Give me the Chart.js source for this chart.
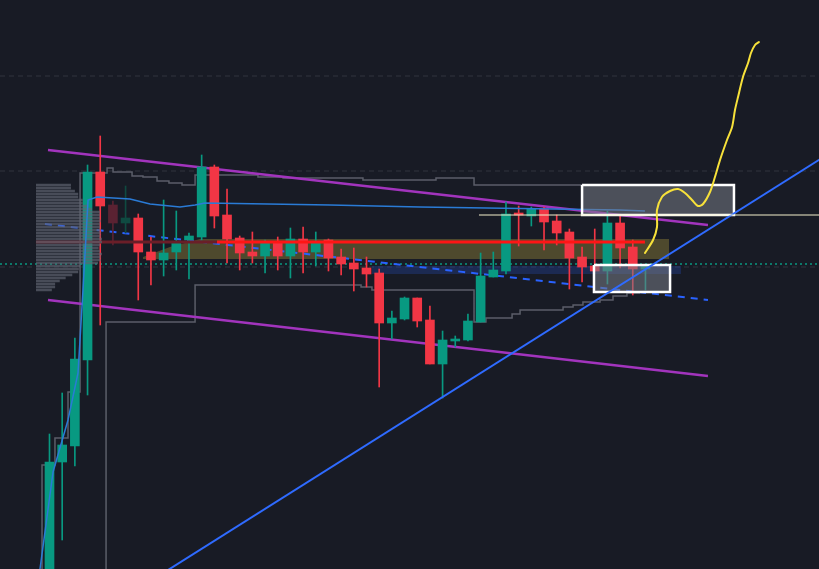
<!DOCTYPE html>
<html>
<head>
<meta charset="utf-8">
<script src="https://cdn.jsdelivr.net/npm/chart.js@4.4.1/dist/chart.umd.min.js"></script>
<style>
  html, body { margin: 0; padding: 0; background: #181b25; overflow: hidden; }
  #wrap { width: 819px; height: 569px; }
</style>
</head>
<body>
<div id="wrap"><canvas id="chart" width="819" height="569"></canvas></div>
<script>
/* Candles: x = bar index, prices in chart units */
const opens  = [-30,107,123,209,397,364,346,351,317,309,317,329,332,402,354,331,317,313,326,313,330,317,329,312,306,301,296,246,250,271,249,205,228,229,247,292,298,356,353,360,348,337,312,303,298,346,322,300];
const closes = [107,124,210,397,363,346,351,317,309,316,326,333,402,353,330,316,313,326,313,330,317,326,311,305,300,295,246,251,271,248,205,229,230,248,293,299,355,354,360,347,336,311,302,298,346,321,300,303];
const highs  = [135,176,231,404,433,368,383,355,332,369,358,336,414,404,380,333,337,329,332,341,342,337,330,320,321,312,300,258,272,271,263,238,233,255,316,317,367,363,362,362,354,340,322,340,358,353,329,303];
const lows   = [-40,29,103,174,244,324,336,269,284,293,299,290,329,341,306,299,306,296,299,291,296,303,298,294,278,282,182,230,249,242,205,171,222,228,247,292,295,323,343,319,324,280,287,298,285,301,274,279];
const fadedBars = [5, 6];

/* Moving average */
const maLine = [[-0.75,0],[0.28,97],[1.46,149],[2.25,196],[2.64,279],[3.04,369],[3.75,372],[6.35,370],[7.93,365],[10.29,362],[11.48,364],[12.26,366],[22.12,364],[29.22,362],[44.99,359],[46.96,358]];

/* Stepped levels (level starts at x) */
const upperSteps = [[-0.59,-6],[-0.59,104],[0.43,131],[1.46,177],[2.41,396],[4.54,401],[5.01,397],[6.51,393],[7.37,392],[8.48,388],[9.42,386],[10.45,384],[11.48,394],[16.44,392],[18.42,391],[24.72,389],[30.48,391],[33.48,384],[42.0,384]];
const lowerSteps = [[4.46,-6],[4.46,247],[11.48,284],[24.57,282],[25.43,279],[33.48,247],[34.42,251],[36.48,255],[37.11,259],[40.5,262],[41.29,264],[42.07,267],[43.42,269],[44.44,273],[45.54,276],[46.57,276]];

/* Volume profile */
const vpLevels = [384,381,378,375,372,369,366,363,360,357,354,351,348,345,342,339,336,333,330,327,324,321,318,315,312,309,306,303,300,297,294,291,288,285,282,279];
const vpVolume = [53,53,59,64,64,71,71,79,85,97,97,97,98,97,97,98,98,98,100,100,97,95,97,100,98,98,94,67,65,64,55,45,36,29,29,24];

/* Drawings */
const channelTop    = [[-0.12,419],[51.93,344]];
const channelBottom = [[-0.12,269],[51.93,193]];
const trendUp       = [[8.72,-6],[61.55,416]];
const trendDashed   = [[-0.36,345],[51.93,269]];
const pocDim        = [[-1.07,327],[13.21,327]];
const pocBright     = [[13.21,327],[46.96,327]];
const valueArea     = [[7.37,312],[9.5,322],[11.87,330],[48.86,330]];
const valueAreaLow  = 310;
const demandBand    = [[25.43,303],[49.8,303]];
const demandBandLow = 295;
const whiteLevel    = [[33.87,354],[62,354]];
const tealLevel     = 305;
const gridLevels    = [493,398,302];
const boxUpper      = { x0: 42.0, x1: 53.98, top: 384, bottom: 354 };
const boxLower      = { x0: 42.94, x1: 48.94, top: 304, bottom: 277 };
const projection    = [[46.96,316],[47.6,329],[47.91,342],[47.91,359],[48.3,372],[48.94,378],[49.57,380],[50.12,376],[50.67,369],[51.14,363],[51.54,365],[52.09,377],[52.48,392],[52.88,409],[53.43,429],[53.83,442],[54.06,459],[54.3,472],[54.69,492],[55.09,506],[55.32,516],[55.64,524],[55.95,527]];

const GREEN = "#089981", RED = "#f23645";
const X_MIN = -3.904, X_MAX = 60.686;

const pts = arr => arr.map(([x, y]) => ({ x, y }));

function barColor(i) {
  const up = closes[i] >= opens[i];
  if (fadedBars.includes(i)) return up ? "#0f4a41" : "#5a2232";
  return up ? GREEN : RED;
}

function lineDs(data, color, width, order, extra) {
  return Object.assign({
    type: "line", data, borderColor: color, borderWidth: width,
    pointRadius: 0, fill: false, tension: 0, order, spanGaps: false,
  }, extra || {});
}

function boxOutline(b) {
  return pts([[b.x0,b.top],[b.x1,b.top],[b.x1,b.bottom],[b.x0,b.bottom],[b.x0,b.top]]);
}

// volume profile rows as broken line segments
const vpLeft = -1.065, vpMaxWidth = 5.2;
const vpData = [];
vpLevels.forEach((lvl, k) => {
  const right = vpLeft + vpVolume[k] / 100 * vpMaxWidth;
  vpData.push({ x: vpLeft, y: lvl }, { x: right, y: lvl }, { x: right, y: null });
});

const idx = opens.map((_, i) => i);

const datasets = [
  // grid
  ...gridLevels.map(g => lineDs(pts([[X_MIN, g], [X_MAX, g]]), "#30343f", 1, 20, { borderDash: [5, 4] })),
  // value area + demand band
  lineDs(pts(valueArea), "rgba(0,0,0,0)", 0, 19, { fill: { value: valueAreaLow }, backgroundColor: "rgba(118,106,52,0.58)" }),
  lineDs(pts(demandBand), "rgba(0,0,0,0)", 0, 18, { fill: { value: demandBandLow }, backgroundColor: "rgba(41,82,200,0.28)" }),
  // step lines
  lineDs(pts(upperSteps), "#5b5e69", 1.5, 17, { stepped: "before" }),
  lineDs(pts(lowerSteps), "#5b5e69", 1.5, 17, { stepped: "before" }),
  // teal price line
  lineDs(pts([[X_MIN, tealLevel], [X_MAX, tealLevel]]), GREEN, 1.5, 16, { borderDash: [2, 3] }),
  // dashed blue trend
  lineDs(pts(trendDashed), "#2962ff", 2, 15, { borderDash: [7, 6] }),
  // channel
  lineDs(pts(channelTop), "#a234bd", 2.5, 14),
  lineDs(pts(channelBottom), "#a234bd", 2.5, 14),
  // candles
  {
    type: "bar", order: 11, grouped: false, barThickness: 1,
    data: idx.map(i => ({ x: i, y: [lows[i], highs[i]] })),
    backgroundColor: idx.map(barColor),
  },
  {
    type: "bar", order: 10, grouped: false, barThickness: 9, minBarLength: 1,
    data: idx.map(i => ({ x: i, y: [opens[i], closes[i]] })),
    backgroundColor: idx.map(barColor),
  },
  // point of control
  lineDs(pts(pocDim), "#6a1e28", 3, 9),
  lineDs(pts(pocBright), "#ff1515", 3, 9),
  // volume profile
  lineDs(vpData, "rgba(96,100,113,0.68)", 2.5, 8),
  // moving average
  lineDs(pts(maLine), "#2a7bd6", 1.5, 7),
  // boxes
  lineDs(pts([[boxUpper.x0, boxUpper.top], [boxUpper.x1, boxUpper.top]]), "rgba(0,0,0,0)", 0, 6, { fill: { value: boxUpper.bottom }, backgroundColor: "rgba(120,123,134,0.55)" }),
  lineDs(pts([[boxLower.x0, boxLower.top], [boxLower.x1, boxLower.top]]), "rgba(0,0,0,0)", 0, 6, { fill: { value: boxLower.bottom }, backgroundColor: "rgba(120,123,134,0.55)" }),
  lineDs(boxOutline(boxUpper), "#ffffff", 2.5, 5),
  lineDs(boxOutline(boxLower), "#ffffff", 2.5, 5),
  // rising trend line
  lineDs(pts(trendUp), "#2f6bff", 2, 4),
  lineDs(pts(whiteLevel), "#f3f0cc", 1, 3),
  // projected path
  lineDs(pts(projection), "#f7e13a", 2, 1, { tension: 0.3, borderCapStyle: "round", borderJoinStyle: "round" }),
];

new Chart(document.getElementById("chart"), {
  type: "bar",
  data: { datasets },
  options: {
    responsive: false,
    animation: false,
    events: [],
    layout: { padding: 0 },
    plugins: { legend: { display: false }, tooltip: { enabled: false } },
    scales: {
      x: { type: "linear", min: X_MIN, max: X_MAX, display: false, offset: false },
      y: { type: "linear", min: 0, max: 569, display: false },
    },
  },
});
</script>
</body>
</html>
